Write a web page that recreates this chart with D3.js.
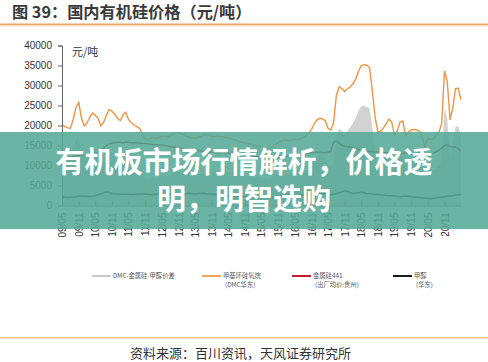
<!DOCTYPE html>
<html><head><meta charset="utf-8">
<script src="https://cdn.jsdelivr.net/npm/d3@7"></script>
<style>
html,body{margin:0;padding:0;background:#fff;}
svg{display:block;}
</style></head><body>
<svg id="c" width="488" height="362"></svg>
<script>
// ---------- data ----------
const titleText = "图 39：国内有机硅价格（元/吨）";
const unitText = "元/吨";
const sourceText = "资料来源：百川资讯，天风证券研究所";
const overlayLines = ["有机板市场行情解析，价格透", "明，明智选购"];
const xTickLabels = ["09/05","09/11","10/05","10/11","11/05","11/11","12/05","12/11","13/05","13/11","14/05","14/11",
                     "15/05","15/11","16/05","16/11","17/05","17/11","18/05","18/11","19/05","19/11","20/05","20/11"];
const yTicks = [0,5000,10000,15000,20000,25000,30000,35000,40000];
const seriesNames = ["DMC-金属硅-甲醇价差", "甲基环硅氧烷", "金属硅441", "甲醇"];
const seriesSubNames = ["", "(DMC华东)", "(出厂均价:贵州)", "(华东)"];

// monthly, 2009-05 .. 2021-05
const spreadValues = [
12700,12300,11900,11600,13700,16500,17600,13500,11600,12500,
13800,14800,14000,12800,10500,10800,12000,13400,13300,12500,
11600,11000,12500,13100,11300,10600,10100,9600,9100,7700,
6600,6500,6900,7100,6700,7000,7500,7500,7400,7700,
7900,8300,8500,8400,8000,7600,7400,7400,7400,7500,
7900,8200,8400,8300,8200,8100,8400,8400,8400,8300,
8400,8300,8100,7800,7700,7600,7500,7500,7300,7200,
7200,7100,7000,6800,6600,6800,7200,7500,7900,8100,
8200,7700,7700,8000,8100,8100,8200,8300,8600,9200,
10100,11400,12200,12500,12500,12000,10200,9800,10400,16900,
19200,18700,17800,18700,19600,20700,21800,23700,24800,24900,
24700,24300,19200,12900,9200,9800,10700,11800,12900,12200,
9000,10300,12500,12700,8900,9900,10700,10800,10700,10500,
9400,6700,9100,8800,8800,9400,9900,11800,24500,21600,
12200,15200,19700,19900,17300];
const dmcValues = [
20200,19800,19400,19300,21500,24500,25800,21800,19900,20700,
22000,23100,22600,21800,19900,20800,22500,24000,23600,22800,
21800,21200,22600,23300,21500,20700,20200,19700,19300,17900,
16700,16500,16800,17000,16700,17000,17400,17300,17200,17500,
17800,18100,18200,18000,17600,17300,17100,16900,16800,17000,
17300,17600,17700,17500,17300,17200,17400,17300,17200,17000,
16900,16700,16500,16200,16000,15800,15600,15500,15300,15200,
15000,14800,14600,14400,14300,14400,14700,15200,15700,16100,
16400,16300,16200,16400,16500,16400,16600,17000,17500,18100,
19000,20500,21400,21800,21700,21200,19300,18900,20600,27500,
29700,29200,28500,29200,29700,30500,31600,33500,35000,35200,
35100,34500,28500,22000,18200,18600,19400,20500,21600,20900,
17600,18700,20800,21100,17400,18300,18900,19000,18900,18600,
17300,14500,16800,16500,16700,17500,18300,20500,33700,31000,
21400,24500,29200,29300,26400];
const siliconValues = [
11500,11600,11800,12000,12200,12400,12500,12600,12600,12700,
12800,12900,13000,13300,13800,14400,15000,15400,15600,15700,
15800,15800,15700,15800,15800,15700,15700,15600,15600,15500,
15500,15400,15300,15200,15200,15100,15100,15000,14900,14700,
14600,14500,14500,14400,14300,14200,14100,14000,13900,13800,
13600,13500,13500,13400,13300,13300,13200,13200,13300,13200,
13100,13000,13000,12900,12900,12800,12700,12600,12500,12400,
12300,12200,12100,12000,11900,11800,11800,11900,12000,12100,
12200,12300,12300,12400,12500,12500,12600,12800,13000,13100,
13200,13300,13300,13300,13200,13200,13300,13600,15800,16200,
15600,15100,14800,14700,14600,14400,14200,14000,13800,13700,
13600,13500,13500,13400,13400,13300,13200,13200,13300,13300,
13200,13100,13000,13000,13100,13000,12900,12900,13000,13100,
13000,12900,12800,12900,13100,13400,13800,14300,15000,15200,
14800,14600,14700,14200,13500];
const methanolValues = [
2100,2050,2000,2050,2100,2200,2300,2400,2350,2300,
2250,2300,2500,2700,2900,3200,3400,3300,3000,2900,
2850,2800,2800,2850,2800,2750,2750,2800,2850,2900,
2850,2800,2750,2800,2900,2950,2850,2750,2800,2900,
3000,2950,2850,2850,2900,3000,3050,2950,2900,2950,
3000,3050,2950,2900,2850,2800,2750,2700,2600,2500,
2400,2300,2350,2400,2300,2200,2150,2100,2150,2200,
2100,2000,1950,2000,2100,2050,2000,2100,2200,2300,
2500,2800,2700,2600,2500,2450,2500,2700,2800,2750,
2700,2800,2900,3000,3000,2950,2800,2700,2800,3000,
3200,3400,3700,3500,3200,3000,3100,3200,3300,3200,
3000,2950,2900,2800,2700,2600,2550,2500,2450,2500,
2450,2300,2200,2300,2400,2300,2200,2150,2100,2000,
1900,1800,1750,1700,1800,1900,2000,2100,2200,2300,
2350,2450,2600,2700,2750];

// ---------- layout ----------
const svg = d3.select("#c");
const W = 488, H = 362;
const cjk = "'Noto Sans CJK SC','Noto Sans',sans-serif";
const latin = "'Liberation Sans',Arial,'Noto Sans CJK SC',sans-serif";

const months = d3.timeMonth.range(new Date(2009,4,1), new Date(2021,5,1));
const x = d3.scaleTime().domain([months[0], months[months.length-1]]).range([62, 461]);
const y = d3.scaleLinear().domain([0, 40000]).range([205.5, 45.5]);

// title
svg.append("text").attr("x", 12).attr("y", 18)
  .attr("font-family", cjk).attr("font-weight", 700).attr("font-size", 16.2)
  .attr("fill", "#3a3a3a").text(titleText);
svg.append("rect").attr("x", 0).attr("y", 23.5).attr("width", W).attr("height", 1.5).attr("fill", "#e9a86a");
svg.append("rect").attr("x", 0).attr("y", 25).attr("width", W).attr("height", 1.5).attr("fill", "#f7dcc0");

// gray spread area
const area = d3.area().x((d,i)=>x(months[i])).y0(y(0)).y1(d=>y(d));
svg.append("path").datum(spreadValues).attr("d", area).attr("fill", "#d2d2d2");

const line = d3.line().x((d,i)=>x(months[i])).y(d=>y(d));
svg.append("path").datum(dmcValues).attr("d", line).attr("fill","none").attr("stroke","#ea9445").attr("stroke-width",1.4);
svg.append("path").datum(siliconValues).attr("d", line).attr("fill","none").attr("stroke","#7a1c1c").attr("stroke-width",1.5);
svg.append("path").datum(methanolValues).attr("d", line).attr("fill","none").attr("stroke","#1a1a1a").attr("stroke-width",1.5);

// y axis
const yAxis = svg.append("g").attr("transform","translate(62,0)")
  .call(d3.axisLeft(y).tickValues(yTicks).tickSize(4).tickPadding(6).tickFormat(d3.format("d")));
yAxis.select(".domain").attr("stroke","#666");
yAxis.selectAll(".tick line").attr("stroke","#666");
yAxis.selectAll("text").attr("font-family", latin).attr("font-size", 10).attr("fill","#333");

// x axis
const xTickDates = xTickLabels.map((d,i)=>months[i*6]);
const xAxis = svg.append("g").attr("transform","translate(0,205.5)")
  .call(d3.axisBottom(x).tickValues(xTickDates).tickSize(-4).tickSizeOuter(0)
     .tickFormat((d,i)=>xTickLabels[i]));
xAxis.select(".domain").attr("stroke","#666");
xAxis.selectAll(".tick line").attr("stroke","#666");
xAxis.selectAll("text").attr("font-family", latin).attr("font-size", 10).attr("fill","#333")
  .attr("transform","rotate(-90)").attr("text-anchor","end")
  .attr("x", -7).attr("y", 0).attr("dy","0.35em");

// unit
svg.append("text").attr("x", 72).attr("y", 56).attr("font-family", cjk).attr("font-size", 11)
  .attr("fill","#333").text(unitText);

// legend
const legendColors = ["#c4c4c4","#ee9a48","#c00018","#000"];
const legendLineX = [92, 202, 292, 393];
seriesNames.forEach((n,i)=>{
  const g = svg.append("g");
  g.append("line").attr("x1",legendLineX[i]).attr("x2",legendLineX[i]+19).attr("y1",276).attr("y2",276)
    .attr("stroke",legendColors[i]).attr("stroke-width",1.8);
  g.append("text").attr("x",legendLineX[i]+21).attr("y",278.2).attr("font-family",cjk).attr("font-size",6.3)
    .attr("fill","#555").text(n);
  if (seriesSubNames[i]) g.append("text").attr("x",legendLineX[i]+23).attr("y",287.2).attr("font-family",cjk)
    .attr("font-size",6.3).attr("fill","#555").text(seriesSubNames[i]);
});

// source
svg.append("rect").attr("x",0).attr("y",337).attr("width",W).attr("height",1.5).attr("fill","#ecc28e");
svg.append("text").attr("x",130).attr("y",357.5).attr("font-family",cjk).attr("font-size",13)
  .attr("fill","#333").text(sourceText);

// overlay banner
svg.append("rect").attr("x",0).attr("y",132).attr("width",W).attr("height",97)
  .attr("fill","rgb(86,169,150)").attr("fill-opacity",0.88);
const ov = svg.append("text").attr("text-anchor","middle")
  .attr("font-family",cjk).attr("font-weight",700).attr("font-size",29).attr("fill","#fff");
ov.selectAll("tspan").data(overlayLines).enter().append("tspan")
  .attr("x", 244).attr("y",(d,i)=>173 + i*37).text(d=>d);
</script>
</body></html>
